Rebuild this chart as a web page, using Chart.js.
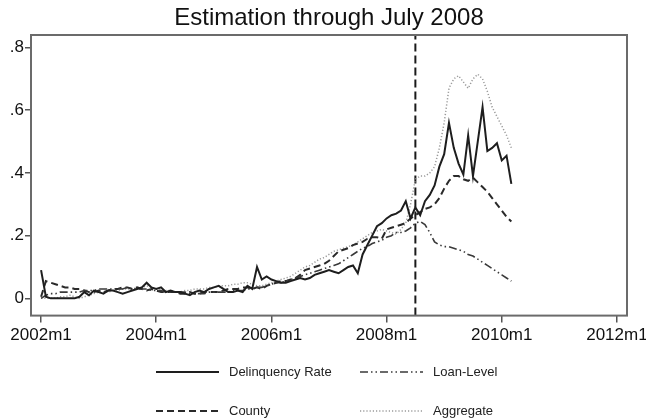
<!DOCTYPE html>
<html>
<head>
<meta charset="utf-8">
<script src="https://cdn.jsdelivr.net/npm/chart.js@4.4.1/dist/chart.umd.min.js"></script>
<style>
  html, body { margin: 0; padding: 0; background: #fff; }
  #wrap { width: 646px; height: 419px; }
</style>
</head>
<body>
<div id="wrap"><canvas id="myChart" width="646" height="419"></canvas></div>
<script>
// months counted from 2002m1 (0) up to 2010m3 (98)
const startYear = 2002;
const cutoffMonth = 78; // 2008m7
const tickMonths = [0, 24, 48, 72, 96, 120];
const yTicks = [0, 0.2, 0.4, 0.6, 0.8];
const titleText = 'Estimation through July 2008';

const delinquency = [
    0.09, 0.005, 0.0, 0.0, 0.0, 0.0, 0.0, 0.0, 0.005, 0.02,
    0.01, 0.025, 0.02, 0.015, 0.025, 0.025, 0.02, 0.015, 0.02, 0.025,
    0.03, 0.035, 0.05, 0.035, 0.03, 0.035, 0.02, 0.025, 0.02, 0.02,
    0.015, 0.01, 0.02, 0.025, 0.02, 0.03, 0.035, 0.04, 0.03, 0.02,
    0.02, 0.025, 0.02, 0.04, 0.03, 0.10, 0.06, 0.07, 0.06, 0.055,
    0.05, 0.05, 0.055, 0.06, 0.065, 0.06, 0.065, 0.075, 0.08, 0.085,
    0.09, 0.085, 0.08, 0.09, 0.10, 0.105, 0.08, 0.14, 0.17, 0.20,
    0.23, 0.24, 0.255, 0.265, 0.27, 0.28, 0.31, 0.255, 0.29, 0.265,
    0.31, 0.33, 0.36, 0.42, 0.46, 0.56, 0.48, 0.43, 0.395, 0.52,
    0.39, 0.50, 0.61, 0.47, 0.48, 0.495, 0.44, 0.455, 0.365
];

const loanLevel = [
    0.0, 0.01, 0.015, 0.015, 0.02, 0.02, 0.02, 0.02, 0.02, 0.025,
    0.025, 0.025, 0.03, 0.03, 0.03, 0.03, 0.03, 0.03, 0.035, 0.03,
    0.03, 0.03, 0.03, 0.025, 0.025, 0.025, 0.02, 0.02, 0.02, 0.02,
    0.02, 0.015, 0.015, 0.015, 0.015, 0.02, 0.02, 0.02, 0.02, 0.02,
    0.025, 0.025, 0.025, 0.03, 0.03, 0.035, 0.035, 0.04, 0.045, 0.05,
    0.05, 0.055, 0.06, 0.065, 0.07, 0.075, 0.08, 0.085, 0.09, 0.095,
    0.10, 0.105, 0.11, 0.12, 0.13, 0.14, 0.15, 0.16, 0.165, 0.175,
    0.18, 0.185, 0.195, 0.20, 0.21, 0.21, 0.215, 0.225, 0.24, 0.245,
    0.235, 0.21, 0.18, 0.17, 0.165, 0.165, 0.16, 0.155, 0.15, 0.14,
    0.135, 0.125, 0.115, 0.105, 0.095, 0.085, 0.075, 0.065, 0.055
];

const county = [
    0.005, 0.055, 0.05, 0.045, 0.04, 0.035, 0.035, 0.03, 0.03, 0.025,
    0.02, 0.02, 0.025, 0.02, 0.025, 0.03, 0.03, 0.035, 0.035, 0.03,
    0.035, 0.03, 0.025, 0.03, 0.025, 0.02, 0.02, 0.02, 0.02, 0.015,
    0.015, 0.02, 0.015, 0.015, 0.02, 0.02, 0.02, 0.02, 0.025, 0.03,
    0.03, 0.03, 0.035, 0.035, 0.03, 0.035, 0.03, 0.04, 0.045, 0.05,
    0.055, 0.055, 0.06, 0.065, 0.075, 0.09, 0.095, 0.10, 0.105, 0.11,
    0.12, 0.135, 0.15, 0.155, 0.16, 0.17, 0.175, 0.18, 0.19, 0.195,
    0.195, 0.19, 0.22, 0.225, 0.23, 0.235, 0.24, 0.255, 0.265, 0.275,
    0.285, 0.29, 0.30, 0.32, 0.35, 0.375, 0.39, 0.39, 0.38, 0.375,
    0.385, 0.37, 0.355, 0.34, 0.32, 0.30, 0.28, 0.26, 0.245
];

const aggregate = [
    0.0, 0.0, 0.0, 0.0, 0.005, 0.005, 0.01, 0.005, 0.0, 0.005,
    0.01, 0.015, 0.02, 0.02, 0.02, 0.025, 0.025, 0.03, 0.03, 0.03,
    0.035, 0.035, 0.04, 0.035, 0.03, 0.03, 0.025, 0.025, 0.02, 0.02,
    0.025, 0.025, 0.03, 0.03, 0.03, 0.035, 0.035, 0.04, 0.04, 0.04,
    0.045, 0.045, 0.05, 0.05, 0.045, 0.04, 0.04, 0.045, 0.05, 0.055,
    0.06, 0.065, 0.07, 0.08, 0.09, 0.10, 0.105, 0.115, 0.125, 0.13,
    0.14, 0.15, 0.155, 0.16, 0.165, 0.17, 0.18, 0.19, 0.20, 0.21,
    0.215, 0.22, 0.215, 0.21, 0.205, 0.22, 0.24, 0.30, 0.38, 0.39,
    0.39, 0.40, 0.42, 0.48, 0.56, 0.67, 0.70, 0.71, 0.69, 0.67,
    0.70, 0.715, 0.70, 0.66, 0.61, 0.58, 0.55, 0.52, 0.48
];

const yMin = -0.055, yMax = 0.84;

function toPoints(values) {
    return values.map((v, i) => ({ x: i, y: v }));
}

function monthLabel(m) {
    return (startYear + Math.floor(m / 12)) + 'm' + (m % 12 + 1);
}

const FONT = '"Liberation Sans", Arial, Helvetica, sans-serif';

// title centred over the plot, frame around it, two-column legend underneath
const framePlugin = {
    id: 'frameLegend',
    afterDraw(chart) {
        const ctx = chart.ctx;
        const a = chart.chartArea;
        ctx.save();

        ctx.font = '24px ' + FONT;
        ctx.fillStyle = '#111';
        ctx.textAlign = 'center';
        ctx.textBaseline = 'middle';
        ctx.fillText(titleText, (a.left + a.right) / 2, 18);

        ctx.strokeStyle = '#6b6b6b';
        ctx.lineWidth = 2;
        ctx.setLineDash([]);
        ctx.strokeRect(a.left, a.top, a.right - a.left, a.bottom - a.top);

        const items = [
            { ds: 0, x: 156, y: 372 },
            { ds: 1, x: 360, y: 372 },
            { ds: 2, x: 156, y: 411 },
            { ds: 3, x: 360, y: 411 }
        ];
        ctx.font = '13px ' + FONT;
        ctx.textAlign = 'left';
        ctx.fillStyle = '#222';
        items.forEach(it => {
            const d = chart.data.datasets[it.ds];
            ctx.strokeStyle = d.borderColor;
            ctx.lineWidth = d.borderWidth;
            ctx.setLineDash(d.borderDash || []);
            ctx.beginPath();
            ctx.moveTo(it.x, it.y);
            ctx.lineTo(it.x + 63, it.y);
            ctx.stroke();
            ctx.fillText(d.label, it.x + 73, it.y);
        });
        ctx.restore();
    }
};

var ctx = document.getElementById('myChart').getContext('2d');

let chartEstimacion = new Chart(ctx, {
    type: 'line',
    data: {
        datasets: [{
            label: 'Delinquency Rate',
            data: toPoints(delinquency),
            borderColor: '#1e1e1e',
            borderWidth: 2,
            pointRadius: 0
        }, {
            label: 'Loan-Level',
            data: toPoints(loanLevel),
            borderColor: '#3a3a3a',
            borderWidth: 1.6,
            borderDash: [8, 3, 1.5, 3, 1.5, 3],
            pointRadius: 0
        }, {
            label: 'County',
            data: toPoints(county),
            borderColor: '#2a2a2a',
            borderWidth: 2,
            borderDash: [7, 4],
            pointRadius: 0
        }, {
            label: 'Aggregate',
            data: toPoints(aggregate),
            borderColor: '#9a9a9a',
            borderWidth: 1.5,
            borderDash: [1.2, 2],
            pointRadius: 0
        }, {
            label: 'cutoff',
            data: [{ x: cutoffMonth, y: yMin }, { x: cutoffMonth, y: yMax }],
            borderColor: '#1a1a1a',
            borderWidth: 2,
            borderDash: [8, 4],
            pointRadius: 0
        }]
    },
    options: {
        responsive: false,
        animation: false,
        layout: {
            padding: { left: 0, right: 19, top: 35, bottom: 70 }
        },
        plugins: {
            legend: { display: false },
            tooltip: { enabled: false },
            title: { display: false }
        },
        scales: {
            x: {
                type: 'linear',
                min: -2.1,
                max: 122.1,
                afterBuildTicks: s => { s.ticks = tickMonths.map(v => ({ value: v })); },
                // let the last label run into the right margin
                afterFit: s => { s.paddingRight = 0; },
                ticks: {
                    autoSkip: false,
                    maxRotation: 0,
                    color: '#111',
                    padding: 3,
                    font: { family: FONT, size: 17 },
                    callback: v => monthLabel(v)
                },
                grid: { drawOnChartArea: false, tickLength: 7, color: '#555', lineWidth: 1.5 },
                border: { display: false }
            },
            y: {
                type: 'linear',
                min: yMin,
                max: yMax,
                afterBuildTicks: s => { s.ticks = yTicks.map(v => ({ value: v })); },
                afterFit: s => { s.width = 31; },
                ticks: {
                    color: '#111',
                    padding: 1,
                    font: { family: FONT, size: 17 },
                    callback: v => v === 0 ? '0' : String(Math.round(v * 10) / 10).replace(/^0/, '')
                },
                grid: { drawOnChartArea: false, tickLength: 6, color: '#555', lineWidth: 1.5 },
                border: { display: false }
            }
        }
    },
    plugins: [framePlugin]
});
</script>
</body>
</html>
